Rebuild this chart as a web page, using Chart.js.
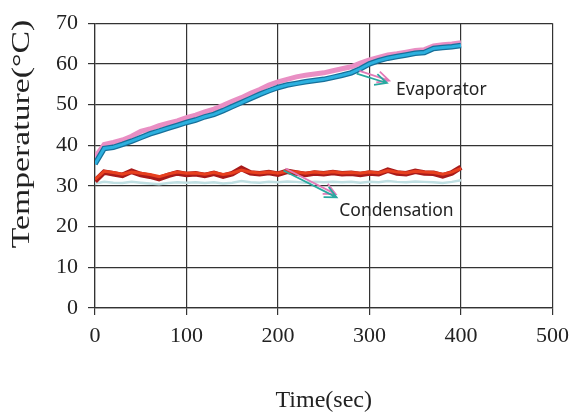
<!DOCTYPE html>
<html>
<head>
<meta charset="utf-8">
<script src="https://cdn.jsdelivr.net/npm/chart.js@4.4.1/dist/chart.umd.min.js"></script>
<style>
  body { margin: 0; background: #fff; }
  canvas { display: block; }
</style>
</head>
<body>
<canvas id="tempChart" width="577" height="420"></canvas>
<script>
// time axis (sec)
var times = [0, 10, 20, 30, 40, 50, 60, 70, 80, 90, 100, 110, 120, 130, 140, 150, 160, 170, 180, 190, 200,
             210, 220, 230, 240, 250, 260, 270, 280, 290, 300, 310, 320, 330, 340, 350, 360, 370, 380, 390, 400];

// evaporator readings (pink = upper trace, blue = lower trace)
var evapUpper = [37.0, 40.2, 40.7, 41.3, 42.2, 43.4, 44.0, 44.8, 45.4, 46.0, 46.8, 47.4, 48.2, 48.9, 49.8, 50.8, 51.7, 52.8, 53.7, 54.8, 55.6,
                 56.2, 56.8, 57.2, 57.5, 57.8, 58.3, 58.8, 59.3, 60.2, 61.0, 61.6, 62.2, 62.5, 62.9, 63.3, 63.5, 64.4, 64.7, 64.9, 65.2];
var evapLower = [35.4, 39.2, 39.5, 40.2, 41.0, 41.9, 42.8, 43.5, 44.2, 44.9, 45.6, 46.2, 47.0, 47.6, 48.5, 49.5, 50.5, 51.5, 52.5, 53.4, 54.2,
                 54.8, 55.2, 55.6, 55.9, 56.2, 56.7, 57.2, 57.8, 58.8, 60.0, 60.8, 61.4, 61.8, 62.2, 62.6, 62.8, 63.8, 64.0, 64.2, 64.5];

// condensation readings
var condDark = [31.2, 33.4, 33.0, 32.6, 33.6, 32.8, 32.4, 31.8, 32.6, 33.2, 32.8, 33.0, 32.6, 33.1, 32.4, 33.0, 34.3, 33.2, 33.0, 33.3, 32.9,
                33.6, 33.2, 32.8, 33.2, 33.0, 33.3, 33.0, 33.1, 32.8, 33.2, 33.0, 33.9, 33.2, 33.0, 33.6, 33.2, 33.1, 32.5, 33.2, 34.6];
var condRed = [31.6, 33.6, 33.3, 32.9, 33.4, 33.1, 32.8, 32.3, 32.9, 33.4, 33.1, 33.2, 32.9, 33.3, 32.8, 33.2, 33.9, 33.4, 33.2, 33.4, 33.1,
               33.6, 33.4, 33.1, 33.4, 33.2, 33.5, 33.2, 33.3, 33.1, 33.4, 33.2, 33.8, 33.4, 33.2, 33.6, 33.4, 33.3, 32.9, 33.4, 34.3];
var condLight = [30.6, 31.0, 30.8, 30.7, 31.0, 30.8, 30.6, 30.4, 30.7, 30.9, 30.8, 30.9, 30.7, 30.9, 30.6, 30.8, 31.2, 30.9, 30.8, 31.0, 30.9,
                 31.1, 31.0, 30.8, 31.0, 30.9, 31.0, 30.9, 31.0, 30.8, 31.0, 30.9, 31.2, 31.0, 30.9, 31.1, 31.0, 30.9, 30.7, 31.0, 31.4];

// axis ticks
var xTicks = [0, 100, 200, 300, 400, 500];
var yTicks = [0, 10, 20, 30, 40, 50, 60, 70];

// callout arrows and labels, in data units (sec, degC)
var callouts = [
    { text: 'Evaporator', textAt: [329, 53.7],
      arrows: [{ from: [289, 58.3], to: [321.5, 55.9], color: '#e27ab8' },
               { from: [286, 57.6], to: [319, 55.3], color: '#2aa8a0' }] },
    { text: 'Condensation', textAt: [267, 23.8],
      arrows: [{ from: [208, 34.3], to: [263, 28.0], color: '#e27ab8' },
               { from: [206, 33.8], to: [264, 27.2], color: '#2aa8a0' }] }
];

function toPoints(values) {
    return times.map(function(t, i) { return { x: t, y: values[i] }; });
}

var axisColor = '#333';
var textColor = '#222';

// draws the callouts and the stretched y-axis title
var calloutPlugin = {
    id: 'callouts',
    afterDatasetsDraw: function(chart) {
        var ctx = chart.ctx;
        var xs = chart.scales.x, ys = chart.scales.y;
        ctx.save();
        callouts.forEach(function(c) {
            c.arrows.forEach(function(a) {
                var x1 = xs.getPixelForValue(a.from[0]), y1 = ys.getPixelForValue(a.from[1]);
                var x2 = xs.getPixelForValue(a.to[0]), y2 = ys.getPixelForValue(a.to[1]);
                var ang = Math.atan2(y2 - y1, x2 - x1);
                ctx.strokeStyle = a.color;
                ctx.lineWidth = 1.8;
                ctx.beginPath();
                ctx.moveTo(x1, y1);
                ctx.lineTo(x2, y2);
                ctx.moveTo(x2 - 13 * Math.cos(ang - 0.45), y2 - 13 * Math.sin(ang - 0.45));
                ctx.lineTo(x2, y2);
                ctx.lineTo(x2 - 13 * Math.cos(ang + 0.45), y2 - 13 * Math.sin(ang + 0.45));
                ctx.stroke();
            });
            ctx.fillStyle = textColor;
            ctx.font = '17.5px "Noto Sans"';
            ctx.textAlign = 'left';
            ctx.textBaseline = 'middle';
            ctx.fillText(c.text, xs.getPixelForValue(c.textAt[0]), ys.getPixelForValue(c.textAt[1]));
        });
        ctx.restore();
    },
    afterDraw: function(chart) {
        var ctx = chart.ctx;
        ctx.save();
        ctx.translate(22, 134);
        ctx.rotate(-Math.PI / 2);
        ctx.scale(1.35, 1);
        ctx.fillStyle = textColor;
        ctx.font = '25px "Liberation Serif"';
        ctx.textAlign = 'center';
        ctx.textBaseline = 'middle';
        ctx.fillText('Temperature(\u00B0C)', 0, 0);
        ctx.restore();
    }
};

var config = {
    type: 'line',
    data: {
        datasets: [
            { label: 'Evaporator (blue)', data: toPoints(evapLower), borderColor: '#2cb0df', borderWidth: 3, order: 1 },
            { label: 'Evaporator (blue edge)', data: toPoints(evapLower), borderColor: '#17709a', borderWidth: 5.5, order: 2 },
            { label: 'Evaporator (pink)', data: toPoints(evapUpper), borderColor: '#e98fc4', borderWidth: 5, order: 3 },
            { label: 'Condensation (red)', data: toPoints(condRed), borderColor: '#e8401f', borderWidth: 3, order: 4 },
            { label: 'Condensation (dark)', data: toPoints(condDark), borderColor: '#a81a1a', borderWidth: 5.5, order: 5 },
            { label: 'Condensation (light)', data: toPoints(condLight), borderColor: '#bfdfe2', borderWidth: 2.5, order: 6 }
        ]
    },
    options: {
        responsive: false,
        animation: false,
        layout: { padding: { left: 0, top: 20, right: 20, bottom: 0 } },
        elements: { point: { radius: 0 }, line: { tension: 0 } },
        plugins: { legend: { display: false }, tooltip: { enabled: false } },
        scales: {
            x: {
                type: 'linear',
                min: 0, max: 500,
                afterBuildTicks: function(scale) { scale.ticks = xTicks.map(function(v) { return { value: v }; }); },
                afterFit: function(scale) { scale.height = 112; },
                ticks: { color: textColor, padding: 8, font: { family: '"Liberation Serif"', size: 22 }, maxRotation: 0 },
                grid: { color: axisColor, lineWidth: 1.2, tickLength: 7 },
                border: { color: axisColor, width: 1.2 },
                title: { display: true, text: 'Time(sec)', color: textColor, padding: { top: 0, bottom: 5 },
                         font: { family: '"Liberation Serif"', size: 24 } }
            },
            y: {
                min: 0, max: 70,
                afterBuildTicks: function(scale) { scale.ticks = yTicks.map(function(v) { return { value: v }; }); },
                afterFit: function(scale) { scale.width = 95; },
                ticks: { color: textColor, padding: 10, font: { family: '"Liberation Serif"', size: 22 } },
                grid: { color: axisColor, lineWidth: 1.2, tickLength: 7 },
                border: { color: axisColor, width: 1.2 }
            }
        }
    },
    plugins: [calloutPlugin]
};

new Chart(document.getElementById('tempChart'), config);
</script>
</body>
</html>
